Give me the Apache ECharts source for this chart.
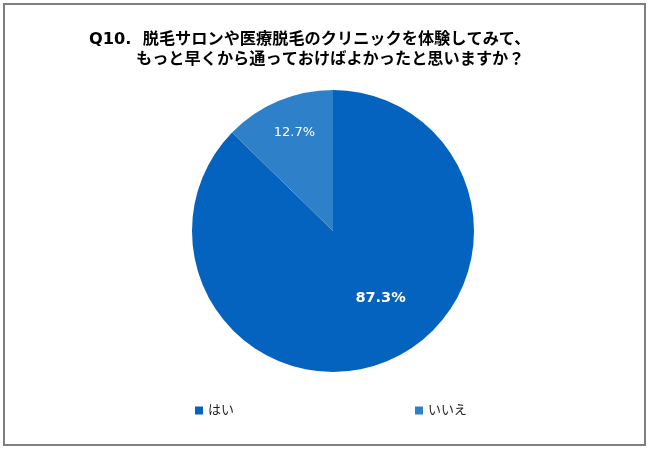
<!DOCTYPE html>
<html><head><meta charset="utf-8">
<script src="https://cdn.jsdelivr.net/npm/echarts@6/dist/echarts.min.js"></script>
<style>html,body{margin:0;padding:0;background:#fff}#c{width:650px;height:451px}</style>
</head><body><div id="c"></div>
<script>
const categories = ['はい', 'いいえ'];
const values = [87.3, 12.7];
const colors = ['#0563C0', '#2E80C9'];
const titleLine1 = 'Q10.  脱毛サロンや医療脱毛のクリニックを体験してみて、';
const titleLine2 = 'もっと早くから通っておけばよかったと思いますか？';

const FONT = '"DejaVu Sans", "Noto Sans CJK JP", sans-serif';
const chart = echarts.init(document.getElementById('c'), null, {renderer: 'canvas'});
const labelCfg = [
  {fontWeight: 'bold', fontSize: 14.5, offset: [19, 0]},
  {fontWeight: 'normal', fontSize: 13, offset: [-10, -31]}
];
chart.setOption({
  backgroundColor: '#fff',
  animation: false,
  graphic: [{
    type: 'rect', shape: {x: 4, y: 4, width: 641, height: 441},
    style: {fill: 'none', stroke: '#7f7f7f', lineWidth: 2}
  }],
  title: [
    {text: titleLine1, left: 84, top: 27, textStyle: {fontFamily: FONT, fontSize: 16.2, fontWeight: 'bold', color: '#000'}},
    {text: titleLine2, left: 131, top: 47, textStyle: {fontFamily: FONT, fontSize: 16.2, fontWeight: 'bold', color: '#000'}}
  ],
  legend: {
    data: categories, left: 195, top: 404, itemWidth: 8, itemHeight: 8, itemGap: 181,
    icon: 'rect', padding: 0,
    textStyle: {fontFamily: FONT, fontSize: 13, color: '#222'}
  },
  series: [{
    type: 'pie', center: [333, 231], radius: [0, 141], startAngle: 90, clockwise: true,
    data: categories.map((n, i) => ({
      name: n, value: values[i], itemStyle: {color: colors[i]},
      label: Object.assign({}, labelCfg[i])
    })),
    itemStyle: {borderWidth: 0},
    label: {
      show: true, position: 'inside', color: '#fff', fontFamily: FONT,
      formatter: p => p.value.toFixed(1) + '%'
    },
    labelLine: {show: false}
  }]
});
</script></body></html>
